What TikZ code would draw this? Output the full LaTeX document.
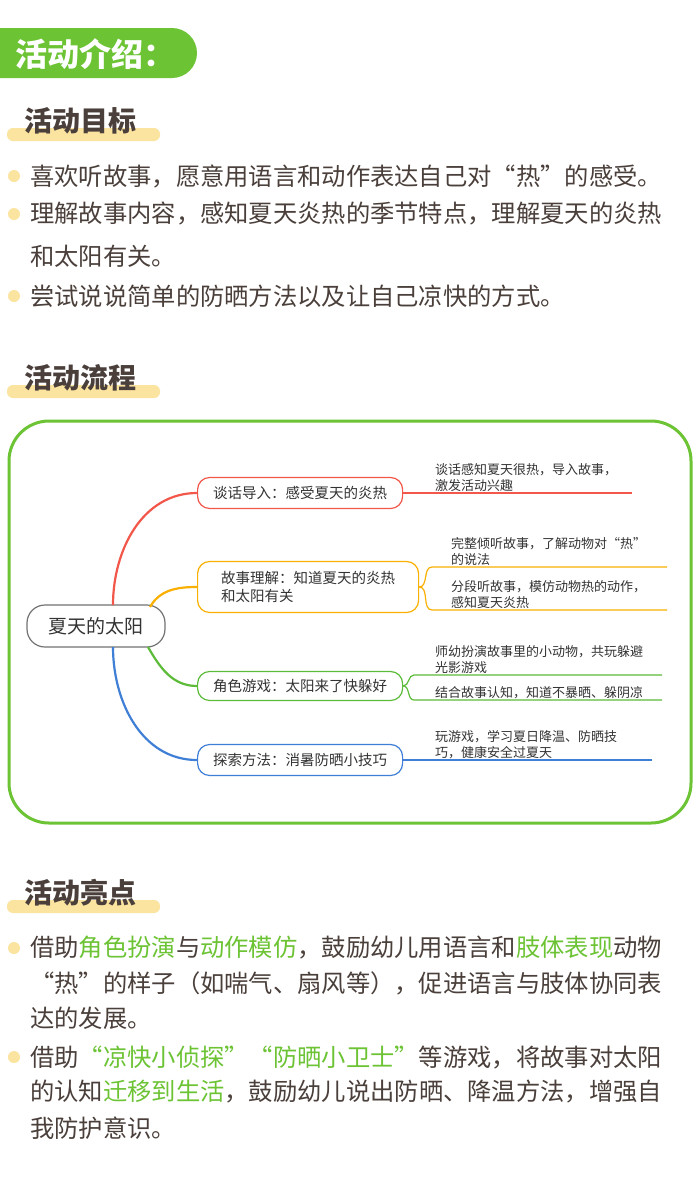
\documentclass[tikz,border=0pt]{standalone}
\usepackage{fontspec}
\setmainfont{Noto Sans CJK SC}
\colorlet{leaf}{black!80}
\definecolor{grn}{HTML}{6CC334}
\definecolor{ylw}{HTML}{FBE3A0}
\definecolor{brn}{HTML}{4A3F3A}
\definecolor{rd}{HTML}{F2574A}
\definecolor{org}{HTML}{F9B000}
\definecolor{gn}{HTML}{5DBB3A}
\definecolor{bl}{HTML}{3F7FD6}
\tikzset{
    head/.style={anchor=west,text=brn,font=\fontsize{28}{28}\selectfont\bfseries,inner sep=0pt},
    para/.style={anchor=west,text=brn,font=\fontsize{24.3}{24.3}\selectfont,inner sep=0pt},
    dot/.style={circle,fill=ylw,inner sep=0pt,minimum size=12pt},
    branch/.style={draw,rounded corners=12pt,line width=1.2pt,minimum width=205pt,minimum height=31pt,
        font=\fontsize{14.5}{18}\selectfont,align=left,text=leaf},
    note/.style={anchor=south west,inner sep=1pt,font=\fontsize{13}{16}\selectfont,align=left,text=leaf},
    conn/.style={line width=2.2pt}
}
\begin{document}
\begin{tikzpicture}[x=1pt,y=-1pt]
    \useasboundingbox (0,0) rectangle (700,1189);
    \fill[white] (0,0) rectangle (700,1189);
    \clip (0,0) rectangle (700,1189);
    % header
    \fill[grn,rounded corners=25pt] (-30,28) rectangle (197,78);
    \node[anchor=west,text=white,font=\fontsize{32}{32}\selectfont\bfseries,inner sep=0pt] (intro) at (15,54) {活动介绍：};
    % goals
    \fill[ylw,rounded corners=6pt] (7,128) rectangle (160,141);
    \node[head] (goals) at (24,121) {活动目标};
    \foreach \y/\t in {176/{喜欢听故事，愿意用语言和动作表达自己对“热”的感受。},
                      214/{理解故事内容，感知夏天炎热的季节特点，理解夏天的炎热},
                      256/{和太阳有关。},
                      296/{尝试说说简单的防晒方法以及让自己凉快的方式。}} {
        \node[para] at (30,\y) {\t};
    }
    \foreach \y in {176,214,296} {
        \node[dot] at (14,\y) {};
    }
    % flow
    \fill[ylw,rounded corners=6pt] (7,385) rectangle (160,398);
    \node[head] (flow) at (24,378) {活动流程};
    \draw[grn,line width=3pt,rounded corners=40pt] (9,421) rectangle (691,823);
    \node[draw=black!55,line width=1.2pt,rounded corners=18pt,minimum width=138pt,minimum height=42pt,
        font=\fontsize{19}{19}\selectfont,text=leaf] (root) at (96,626) {夏天的太阳};
    \node[branch,draw=rd,anchor=west,minimum height=31pt] (talk) at (197,493) {谈话导入：感受夏天的炎热};
    \node[branch,draw=org,anchor=west,minimum width=221pt,minimum height=51pt] (story) at (197,587) {故事理解：知道夏天的炎热\\和太阳有关};
    \node[branch,draw=gn,anchor=west,minimum height=29pt] (play) at (197,686) {角色游戏：太阳来了快躲好};
    \node[branch,draw=bl,anchor=west,minimum height=31pt] (explore) at (197,760) {探索方法：消暑防晒小技巧};
    \draw[conn,rd] (113,605) to[out=90,in=180] (talk.west);
    \draw[conn,org] (150,607) to[out=60,in=180] (story.west);
    \draw[conn,gn] (148,647) to[out=-60,in=180] (play.west);
    \draw[conn,bl] (113,647) to[out=-90,in=180] (explore.west);
    % leaves
    \coordinate (t1) at (632,493);
    \draw[rd,line width=1.2pt] (talk.east) -- (t1);
    \node[note] at (434,493) {谈话感知夏天很热，导入故事，\\激发活动兴趣};
    \coordinate (s1) at (667,567);
    \coordinate (s2) at (667,610);
    \draw[org,line width=1.2pt] (story.east) to[out=0,in=180] (432,567) -- (s1);
    \draw[org,line width=1.2pt] (story.east) to[out=0,in=180] (432,610) -- (s2);
    \node[note] at (450,567) {完整倾听故事，了解动物对“热”\\的说法};
    \node[note] at (450,610) {分段听故事，模仿动物热的动作，\\感知夏天炎热};
    \coordinate (p1) at (662,675);
    \coordinate (p2) at (662,700);
    \draw[gn,line width=1.2pt] (play.east) to[out=0,in=180] (414,675) -- (p1);
    \draw[gn,line width=1.2pt] (play.east) to[out=0,in=180] (414,700) -- (p2);
    \node[note] at (434,675) {师幼扮演故事里的小动物，共玩躲避\\光影游戏};
    \node[note] at (434,700) {结合故事认知，知道不暴晒、躲阴凉};
    \coordinate (e1) at (652,760);
    \draw[bl,line width=1.2pt] (explore.east) -- (e1);
    \node[note] at (434,760) {玩游戏，学习夏日降温、防晒技\\巧，健康安全过夏天};
    % highlights
    \fill[ylw,rounded corners=6pt] (7,900) rectangle (160,913);
    \node[head] (high) at (24,893) {活动亮点};
    \foreach \y/\t in {948/{借助\textcolor{grn}{角色扮演}与\textcolor{grn}{动作模仿}，鼓励幼儿用语言和\textcolor{grn}{肢体表现}动物},
                      983/{“热”的样子（如喘气、扇风等），促进语言与肢体协同表},
                      1018/{达的发展。},
                      1057/{借助\textcolor{grn}{“凉快小侦探”“防晒小卫士”}等游戏，将故事对太阳},
                      1092/{的认知\textcolor{grn}{迁移到生活}，鼓励幼儿说出防晒、降温方法，增强自},
                      1128/{我防护意识。}} {
        \node[para] at (30,\y) {\t};
    }
    \foreach \y in {948,1057} {
        \node[dot] at (14,\y) {};
    }
\end{tikzpicture}
\end{document}
